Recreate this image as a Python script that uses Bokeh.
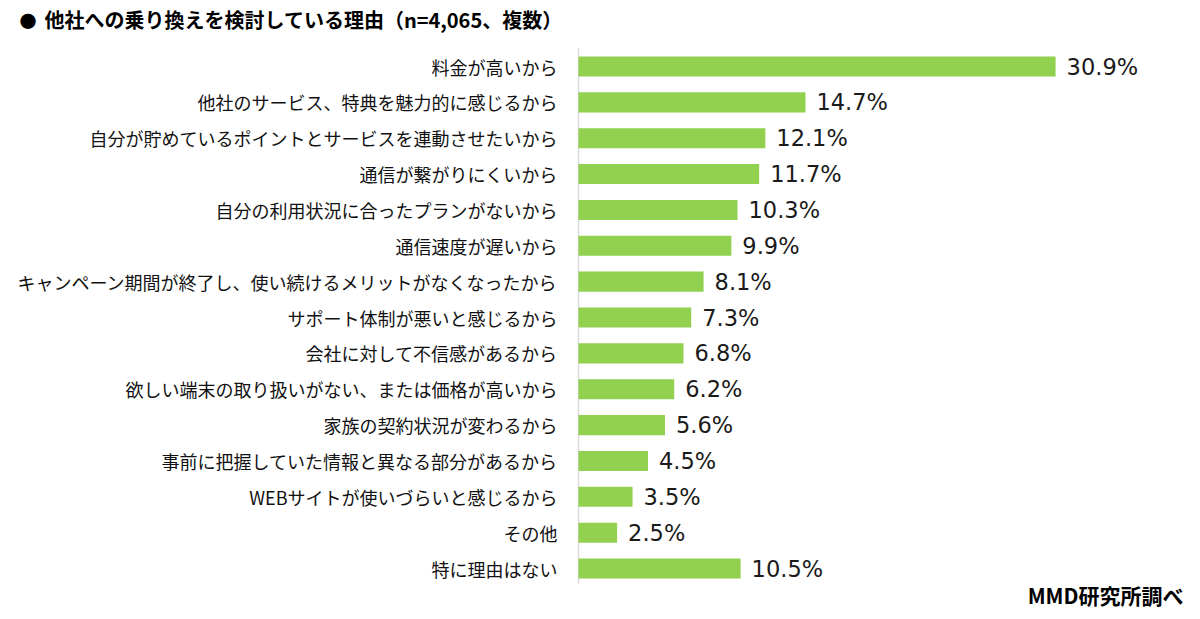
from bokeh.plotting import figure
from bokeh.models import Range1d
from bokeh.core.properties import value
from bokeh.embed import file_html
from bokeh.resources import INLINE

categories = [
    "料金が高いから",
    "他社のサービス、特典を魅力的に感じるから",
    "自分が貯めているポイントとサービスを連動させたいから",
    "通信が繋がりにくいから",
    "自分の利用状況に合ったプランがないから",
    "通信速度が遅いから",
    "キャンペーン期間が終了し、使い続けるメリットがなくなったから",
    "サポート体制が悪いと感じるから",
    "会社に対して不信感があるから",
    "欲しい端末の取り扱いがない、または価格が高いから",
    "家族の契約状況が変わるから",
    "事前に把握していた情報と異なる部分があるから",
    "WEBサイトが使いづらいと感じるから",
    "その他",
    "特に理由はない",
]
values = [30.9, 14.7, 12.1, 11.7, 10.3, 9.9, 8.1, 7.3, 6.8, 6.2, 5.6, 4.5, 3.5, 2.5, 10.5]
value_labels = [f"{v:.1f}%" for v in values]
title_text = "他社への乗り換えを検討している理由（n=4,065、複数）"
source_text = "MMD研究所調べ"

JP = "Noto Sans CJK JP"
W, H = 1184, 611
ZERO_PX = 578          # x of value 0
PX_PER_UNIT = 15.44    # px per percent
ROW0_PX = 66           # y of first row centre
ROW_PX = 35.86         # px per row

rows = list(range(len(categories)))

def dx(fx):
    return (fx - ZERO_PX) / PX_PER_UNIT

def dy(fy):
    return (fy - ROW0_PX) / ROW_PX

p = figure(
    width=W, height=H,
    x_range=Range1d(dx(0), dx(W)),
    y_range=Range1d(dy(H), dy(0)),
    output_backend="svg", toolbar_location=None,
    min_border=0, min_border_left=0, min_border_right=0,
    min_border_top=0, min_border_bottom=0,
)
p.outline_line_color = None
p.xgrid.visible = False
p.ygrid.visible = False
p.xaxis.visible = False
p.yaxis.visible = False
p.background_fill_color = "white"
p.border_fill_color = "white"

# vertical axis line
p.segment(x0=[0], y0=[dy(48)], x1=[0], y1=[dy(583)], line_color="#d9d9d9", line_width=1.5)

p.hbar(y=rows, right=values, left=0, height=0.56,
       fill_color="#92D050", line_color=None)

p.text(x=[0] * len(rows), y=rows, text=categories, x_offset=-21,
       text_baseline="middle", text_align="right",
       text_font=value(JP), text_font_size="18px", text_color="#111111")

p.text(x=values, y=rows, text=value_labels, x_offset=11,
       text_baseline="middle", text_align="left",
       text_font=value("DejaVu Sans"), text_font_size="22.5px",
       text_color="#1a1a1a")

p.text(x=[dx(19)], y=[dy(20)], text=["●"], text_baseline="middle", text_align="left",
       text_font=value(JP), text_font_size="17px", text_font_style="bold", text_color="#000000")
p.text(x=[dx(44)], y=[dy(19)], text=[title_text], text_baseline="middle", text_align="left",
       text_font=value(JP), text_font_size="20px", text_font_style="bold", text_color="#000000")
p.text(x=[dx(1183)], y=[dy(594)], text=[source_text], text_baseline="middle", text_align="right",
       text_font=value(JP), text_font_size="21px", text_font_style="bold", text_color="#000000")

open("out.html", "w").write(file_html(p, INLINE))
